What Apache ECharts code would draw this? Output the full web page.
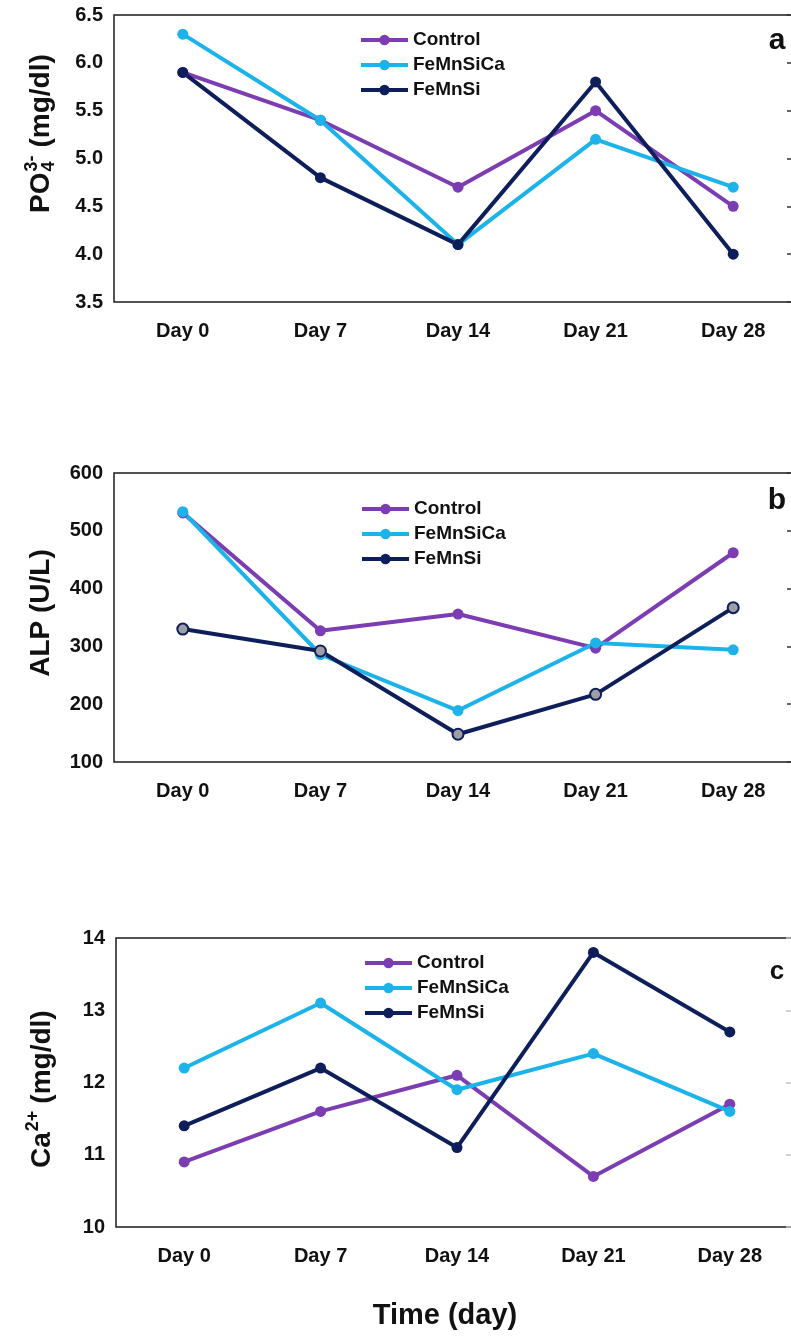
<!DOCTYPE html>
<html>
<head>
<meta charset="utf-8">
<title>PO4, ALP and Ca over time</title>
<script src="https://cdn.jsdelivr.net/npm/echarts@6/dist/echarts.min.js"></script>
<style>
  html, body { margin: 0; padding: 0; background: #fff; }
  #chart { width: 791px; height: 1339px; }
</style>
</head>
<body>
<div id="chart"></div>
<script>
// categories
const days = ['Day 0', 'Day 7', 'Day 14', 'Day 21', 'Day 28']
const groups = ['Control', 'FeMnSiCa', 'FeMnSi']

// panel a - PO4 (mg/dl)
const po4Control = [5.9, 5.4, 4.7, 5.5, 4.5]
const po4FeMnSiCa = [6.3, 5.4, 4.1, 5.2, 4.7]
const po4FeMnSi = [5.9, 4.8, 4.1, 5.8, 4.0]

// panel b - ALP (U/L)
const alpControl = [531, 327, 356, 297, 462]
const alpFeMnSiCa = [533, 286, 189, 306, 294]
const alpFeMnSi = [330, 292, 148, 217, 367]

// panel c - Ca2+ (mg/dl)
const caControl = [10.9, 11.6, 12.1, 10.7, 11.7]
const caFeMnSiCa = [12.2, 13.1, 11.9, 12.4, 11.6]
const caFeMnSi = [11.4, 12.2, 11.1, 13.8, 12.7]

// y axis ranges [min, max, interval]
const po4Range = [3.5, 6.5, 0.5]
const alpRange = [100, 600, 100]
const caRange = [10, 14, 1]

const COLORS = { Control: '#7b3db1', FeMnSiCa: '#1bb3e9', FeMnSi: '#0e1e5b' }
const FONT = '"Liberation Sans", Arial, sans-serif'
const INK = '#111'

// plot boxes run past the right edge of the page, as in the source figure
const grids = [
  { left: 114, top: 15, width: 688, height: 287 },
  { left: 114, top: 473, width: 688, height: 289 },
  { left: 116, top: 938, width: 682, height: 289 },
]

// measure helper for the stacked sub/superscript label
const measureCtx = document.createElement('canvas').getContext('2d')
function textWidth(text, font) {
  measureCtx.font = font
  return measureCtx.measureText(text).width
}

function xAxisFor(i) {
  return {
    type: 'category',
    gridIndex: i,
    data: days,
    axisLine: { show: false },
    axisTick: { show: false },
    axisLabel: { margin: 19, color: INK, fontSize: 20, fontWeight: 'bold', fontFamily: FONT },
  }
}

function yAxesFor(i, range, decimals) {
  const base = { type: 'value', gridIndex: i, min: range[0], max: range[1], interval: range[2], splitLine: { show: false } }
  return [
    {
      ...base,
      axisLine: { show: false },
      axisTick: { show: false },
      axisLabel: {
        margin: 11, color: INK, fontSize: 20, fontWeight: 'bold', fontFamily: FONT,
        formatter: v => v.toFixed(decimals),
      },
    },
    {
      // short inside ticks that show at the cut right edge
      ...base,
      position: 'right',
      axisLine: { show: false },
      axisLabel: { show: false },
      axisTick: {
        show: true,
        inside: true,
        length: i === 2 ? 12 : 15,
        lineStyle: { color: i === 2 ? '#c4c4c4' : '#333', width: 1.5 },
      },
    },
  ]
}

function lineSeries(name, data, gi, grayMarkers) {
  const c = COLORS[name]
  return {
    name,
    type: 'line',
    xAxisIndex: gi,
    yAxisIndex: gi * 2,
    data,
    symbol: 'circle',
    symbolSize: 11,
    lineStyle: { color: c, width: 4 },
    itemStyle: grayMarkers
      ? { color: '#9d9ea6', borderColor: c, borderWidth: 2 }
      : { color: c },
    emphasis: { disabled: true },
  }
}

function legendFor(left, top) {
  return {
    orient: 'vertical',
    left,
    top,
    itemWidth: 47,
    itemHeight: 13,
    itemGap: 5,
    data: groups.map(g => ({ name: g, itemStyle: { color: COLORS[g], borderWidth: 0 } })),
    lineStyle: { width: 4 },
    textStyle: { color: INK, fontSize: 19, fontWeight: 'bold', fontFamily: FONT, lineHeight: 20 },
  }
}

// y name for panel a: PO4 with stacked 3- / 4
const mainFont = 'bold 28px ' + FONT
const smallFont = 'bold 18px ' + FONT
const poW = textWidth('PO', mainFont)
const supW = textWidth('3-', smallFont)
const caW = textWidth('Ca', mainFont)
const sup2W = textWidth('2+', smallFont)

const po4Name = {
  type: 'group',
  x: 41,
  y: 213,
  rotation: Math.PI / 2,
  children: [
    { type: 'text', x: 0, y: 0, style: { text: 'PO', font: mainFont, fill: INK, textVerticalAlign: 'middle' } },
    { type: 'text', x: poW + 1, y: -9, style: { text: '3-', font: smallFont, fill: INK, textVerticalAlign: 'middle' } },
    { type: 'text', x: poW + 1, y: 8, style: { text: '4', font: smallFont, fill: INK, textVerticalAlign: 'middle' } },
    { type: 'text', x: poW + supW + 9, y: 0, style: { text: '(mg/dl)', font: mainFont, fill: INK, textVerticalAlign: 'middle' } },
  ],
}

const caName = {
  type: 'group',
  x: 42,
  y: 1168,
  rotation: Math.PI / 2,
  children: [
    { type: 'text', x: 0, y: 0, style: { text: 'Ca', font: mainFont, fill: INK, textVerticalAlign: 'middle' } },
    { type: 'text', x: caW + 1, y: -9, style: { text: '2+', font: smallFont, fill: INK, textVerticalAlign: 'middle' } },
    { type: 'text', x: caW + sup2W + 8, y: 0, style: { text: '(mg/dl)', font: mainFont, fill: INK, textVerticalAlign: 'middle' } },
  ],
}

function plainText(text, x, y, size, rotation) {
  return {
    type: 'text',
    x, y,
    rotation: rotation || 0,
    style: { text, font: 'bold ' + size + 'px ' + FONT, fill: INK, textAlign: 'center', textVerticalAlign: 'middle' },
  }
}

const chart = echarts.init(document.getElementById('chart'), null, { renderer: 'canvas' })

chart.setOption({
  animation: false,
  backgroundColor: '#fff',
  grid: grids.map(g => ({
    ...g,
    show: true,
    outerBoundsMode: 'none',
    containLabel: false,
    borderColor: '#1a1a1a',
    borderWidth: 1.5,
    backgroundColor: 'transparent',
  })),
  xAxis: [xAxisFor(0), xAxisFor(1), xAxisFor(2)],
  yAxis: [
    ...yAxesFor(0, po4Range, 1),
    ...yAxesFor(1, alpRange, 0),
    ...yAxesFor(2, caRange, 0),
  ],
  legend: [
    legendFor(354, 25),
    legendFor(355, 494),
    legendFor(358, 948),
  ],
  series: [
    lineSeries('Control', po4Control, 0),
    lineSeries('FeMnSiCa', po4FeMnSiCa, 0),
    lineSeries('FeMnSi', po4FeMnSi, 0),
    lineSeries('Control', alpControl, 1),
    lineSeries('FeMnSiCa', alpFeMnSiCa, 1),
    lineSeries('FeMnSi', alpFeMnSi, 1, true),
    lineSeries('Control', caControl, 2),
    lineSeries('FeMnSiCa', caFeMnSiCa, 2),
    lineSeries('FeMnSi', caFeMnSi, 2),
  ],
  graphic: [
    po4Name,
    plainText('ALP (U/L)', 41, 613, 28, Math.PI / 2),
    caName,
    plainText('a', 777, 41, 30),
    plainText('b', 777, 501, 30),
    plainText('c', 777, 972, 26),
    plainText('Time (day)', 445, 1316, 29),
  ],
})
</script>
</body>
</html>
